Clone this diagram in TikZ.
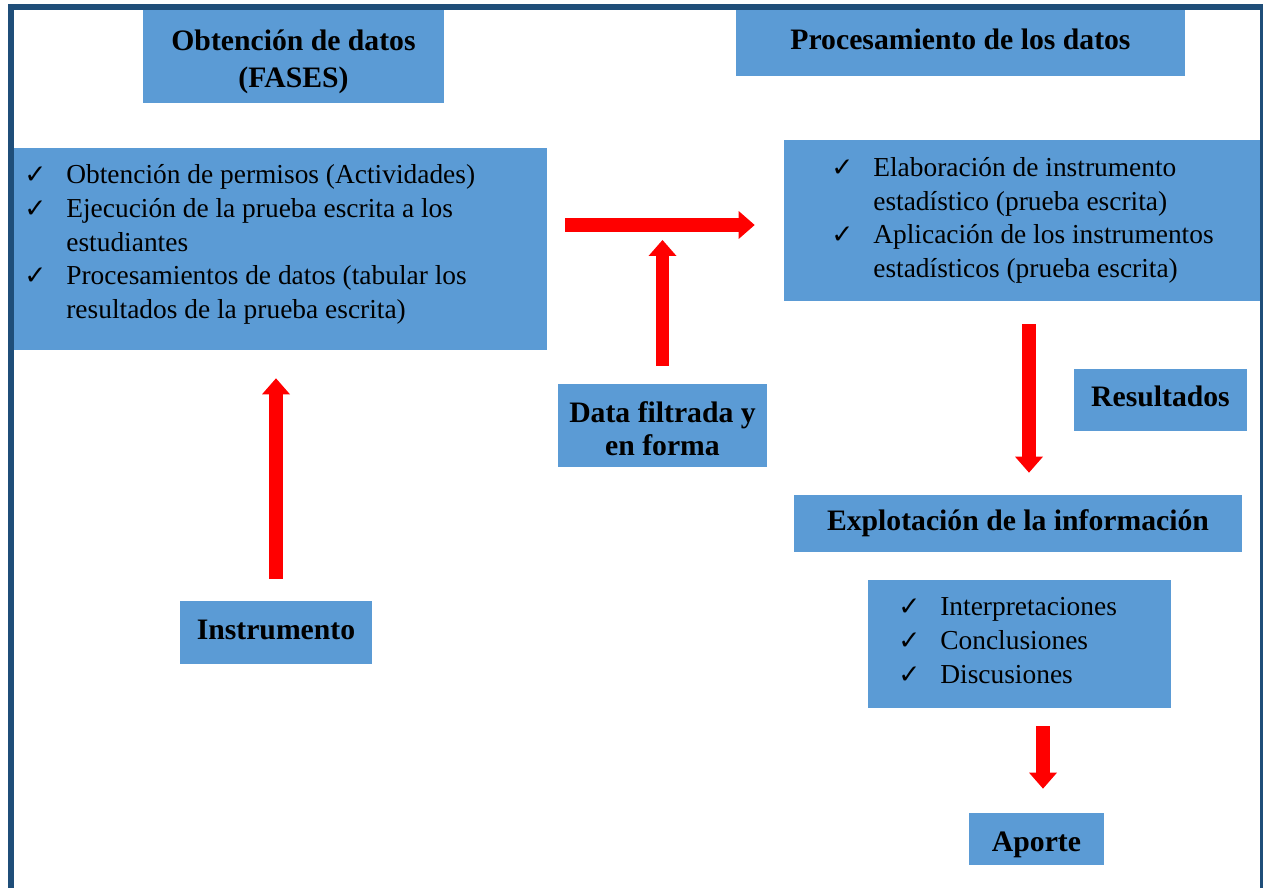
\documentclass[tikz,border=0pt]{standalone}
\usepackage{fontspec}
\setmainfont{Liberation Serif}
\newfontfamily\checkfont{DejaVu Sans}
\definecolor{boxblue}{RGB}{91,155,213}
\definecolor{framenavy}{RGB}{31,78,121}
\definecolor{flowred}{RGB}{255,0,0}
\usetikzlibrary{arrows.meta,calc}
\newcommand{\chk}{\makebox[0.84cm][l]{\checkfont\fontsize{15}{15}\selectfont ✓}}
\newcommand{\hang}{\hspace*{0.84cm}}

\begin{document}
\begin{tikzpicture}[
    box/.style={fill=boxblue,inner sep=0pt,align=center,font=\fontsize{16.9}{19}\selectfont\bfseries},
    listbox/.style={fill=boxblue,inner sep=0pt},
    listtext/.style={anchor=west,inner sep=0pt,align=left,font=\fontsize{15.6}{19.2}\selectfont},
    bigarrow/.style={draw=flowred,line width=0.27cm,-{Triangle[width=0.56cm,length=0.32cm,line width=0pt]}}
]
    \useasboundingbox (0,0) rectangle (25.3,-17.76);
    % heads of the two phases
    \node[box,minimum width=6.02cm,minimum height=1.86cm] (fases) at (5.87,-1.13) {\rule{0pt}{0.62cm}Obtención de datos\\[2pt](FASES)};
    \node[box,minimum width=8.98cm,minimum height=1.32cm,text depth=0.16cm] (proc) at (19.21,-0.86) {Procesamiento de los datos};
    % lists
    \node[listbox,minimum width=10.66cm,minimum height=4.04cm] (actividades) at (5.61,-4.98) {};
    \node[listtext] (actividadesTxt) at (0.48,-4.89) {\chk Obtención de permisos (Actividades)\\
        \chk Ejecución de la prueba escrita a los\\
        \hang estudiantes\\
        \chk Procesamientos de datos (tabular los\\
        \hang resultados de la prueba escrita)};
    \node[listbox,minimum width=9.56cm,minimum height=3.22cm] (elaboracion) at (20.46,-4.41) {};
    \node[listtext] (elaboracionTxt) at (16.62,-4.41) {\chk Elaboración de instrumento\\
        \hang estadístico (prueba escrita)\\
        \chk Aplicación de los instrumentos\\
        \hang estadísticos (prueba escrita)};
    \node[box,minimum width=4.18cm,minimum height=1.66cm] (data) at (13.25,-8.51) {\rule{0pt}{0.55cm}Data filtrada y\\en forma};
    \node[box,minimum width=3.46cm,minimum height=1.24cm,text depth=0.16cm] (resultados) at (23.21,-8.0) {Resultados};
    \node[box,minimum width=8.96cm,minimum height=1.14cm] (explot) at (20.36,-10.47) {Explotación de la información};
    \node[listbox,minimum width=6.06cm,minimum height=2.56cm] (interp) at (20.39,-12.88) {};
    \node[listtext] (interpTxt) at (17.96,-12.81) {\chk Interpretaciones\\
        \chk Conclusiones\\
        \chk Discusiones};
    \node[box,minimum width=3.84cm,minimum height=1.26cm,text depth=0.12cm] (instr) at (5.52,-12.65) {Instrumento};
    \node[box,minimum width=2.7cm,minimum height=1.04cm,text height=0.62cm] (aporte) at (20.73,-16.78) {Aporte};
    % arrows
    \coordinate (junction) at (13.22,-4.5);
    \draw[bigarrow,shorten <=0.36cm,shorten >=0.58cm] (actividades.east |- junction) -- (elaboracion.west |- junction);
    \draw[bigarrow,shorten <=0.36cm,shorten >=0.3cm] (data.north) -- (data.north |- junction);
    \draw[bigarrow,shorten <=0.44cm,shorten >=0.56cm] (instr.north) -- (instr.north |- actividades.south);
    \draw[bigarrow,shorten <=0.46cm,shorten >=0.44cm] ([xshift=0.12cm]elaboracion.south) -- ([xshift=0.22cm]explot.north);
    \draw[bigarrow,shorten <=0.36cm,shorten >=0.48cm] ([xshift=0.13cm]aporte.north |- interp.south) -- ([xshift=0.13cm]aporte.north);
    % frame
    \draw[framenavy,line width=0.12cm] (0.22,-17.76) -- (0.22,-0.14) -- (25.26,-0.14);
    \draw[framenavy,line width=0.07cm] (25.23,-0.14) -- (25.23,-17.76);
\end{tikzpicture}
\end{document}
